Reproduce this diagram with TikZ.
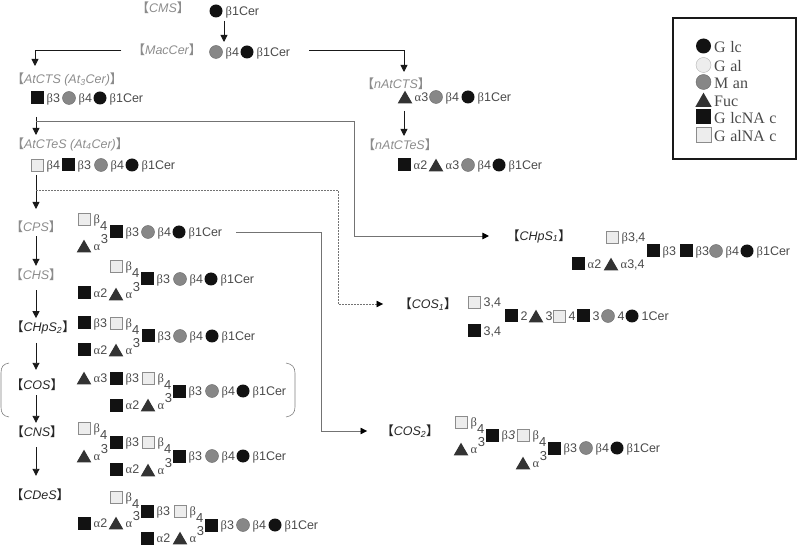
\documentclass[tikz,border=0pt]{standalone}
\usepackage{fontspec}
\setmainfont{Liberation Sans}
\newfontfamily\cjkfont{Noto Sans CJK SC}[BoldFont={Noto Sans CJK SC Bold}]
\newfontfamily\symfont{Liberation Serif}
\usetikzlibrary{arrows.meta,shapes.geometric}

\definecolor{inktext}{HTML}{4A4A4A}
\definecolor{graylabel}{HTML}{8C8C8C}

\newcommand{\bt}{{\symfont β}}
\newcommand{\al}{{\symfont α}}
\newcommand{\bigdigit}[1]{{\fontsize{13}{13}\selectfont #1}}
\newcommand{\btfour}{\bt\raisebox{-7pt}{\bigdigit{4}}}
\newcommand{\althree}{\al\kern0.5pt\raisebox{7pt}{\bigdigit{3}}}
\newcommand{\brk}[1]{{\cjkfont\bfseries\upshape 【}#1{\cjkfont\bfseries\upshape 】}}
\newcommand{\gp}{\kern4.5pt}

% one residue per item: style/x/y/linkage text
\newcommand{\residues}[1]{%
  \foreach \kind/\x/\y/\linkage in {#1} {
    \node[\kind] (r\x-\y) at (\x,\y) {};
    \node[linkage] (r\x-\y-l) at (\x+9.5,\y+4.5) {\linkage};
  }
}

\tikzset{
  glc/.style={circle,fill=black!93,inner sep=0,minimum size=13pt},
  gal/.style={circle,fill=black!7,draw=black!30,inner sep=0,minimum size=13pt},
  man/.style={circle,fill=black!47,draw=black!60,inner sep=0,minimum size=13pt},
  fuc/.style={regular polygon,regular polygon sides=3,fill=black!80,inner sep=0,minimum size=17pt,yshift=-2.2pt},
  glcnac/.style={rectangle,fill=black!93,inner sep=0,minimum size=13pt},
  galnac/.style={rectangle,fill=black!7,draw=black!45,inner sep=0,minimum size=12.5pt},
  linkage/.style={anchor=base west,inner sep=0,text=inktext,font=\fontsize{12.5}{13}\selectfont},
  graytitle/.style={inner sep=0,minimum height=12pt,text=graylabel,font=\fontsize{12.5}{13}\selectfont\itshape},
  blacktitle/.style={graytitle,text=black!85},
  flow/.style={-{Triangle[length=7pt,width=7pt]},black!90,line width=0.9pt},
  thinflow/.style={-{Triangle[length=6.5pt,width=6.5pt,black]},black!55,line width=0.6pt},
  dotflow/.style={thinflow,dash pattern=on 1.6pt off 1.4pt},
  bracket/.style={black!50,line width=0.6pt},
  legendtext/.style={anchor=west,inner sep=0,text=inktext,font=\fontsize{16}{16}\symfont}
}

\begin{document}
\begin{tikzpicture}[x=1pt,y=-1pt]
  \useasboundingbox (0,0) rectangle (798,545);

  % titles
  \node[graytitle] (cms) at (163,8) {\brk{CMS}};
  \node[graytitle] (mac) at (167,50) {\brk{MacCer}};
  \node[graytitle] (atcts) at (67,79) {\brk{AtCTS (At\textsubscript{3}Cer)}};
  \node[graytitle] (atctes) at (70,144) {\brk{AtCTeS (At\textsubscript{4}Cer)}};
  \node[graytitle] (cps) at (36,227) {\brk{CPS}};
  \node[graytitle] (chs) at (36,275) {\brk{CHS}};
  \node[blacktitle] (chpstwo) at (43,327) {\brk{CHpS\textsubscript{2}}};
  \node[blacktitle] (cos) at (37,385) {\brk{COS}};
  \node[blacktitle] (cns) at (37,432) {\brk{CNS}};
  \node[blacktitle] (cdes) at (40,495) {\brk{CDeS}};
  \node[graytitle] (natcts) at (396,84) {\brk{nAtCTS}};
  \node[graytitle] (natctes) at (400,145) {\brk{nAtCTeS}};
  \node[blacktitle] (chpsone) at (539,236) {\brk{CHpS\textsubscript{1}}};
  \node[blacktitle] (cosone) at (428,304) {\brk{COS\textsubscript{1}}};
  \node[blacktitle] (costwo) at (410,431) {\brk{COS\textsubscript{2}}};

  % left column
  \residues{glc/216/11/{\bt 1Cer}}
  \residues{man/216/52/{\bt 4},glc/247/52/{\bt 1Cer}}
  \residues{glcnac/37/98/{\bt 3},man/69/98/{\bt 4},glc/100/98/{\bt 1Cer}}
  \residues{galnac/37/165/{\bt 4},glcnac/68/165/{\bt 3},man/101/165/{\bt 4},glc/132/165/{\bt 1Cer}}
  \residues{galnac/84/219/\btfour,fuc/84/246/\althree,glcnac/116/232/{\bt 3},man/148/232/{\bt 4},glc/179/232/{\bt 1Cer}}
  \residues{galnac/116/266/\btfour,glcnac/84/293/{\al 2},fuc/116/294/\althree,glcnac/147/279/{\bt 3},man/180/279/{\bt 4},glc/211/279/{\bt 1Cer}}
  \residues{glcnac/84/323/{\bt 3},galnac/116/323/\btfour,glcnac/84/350/{\al 2},fuc/116/350/\althree,glcnac/148/336/{\bt 3},man/180/336/{\bt 4},glc/212/336/{\bt 1Cer}}
  \residues{fuc/84/378/{\al 3},glcnac/116/378/{\bt 3},galnac/148/378/\btfour,glcnac/116/405/{\al 2},fuc/148/405/\althree,glcnac/179/391/{\bt 3},man/212/391/{\bt 4},glc/243/391/{\bt 1Cer}}
  \residues{galnac/84/428/\btfour,fuc/84/456/\althree,glcnac/116/442/{\bt 3},galnac/148/442/\btfour,glcnac/116/469/{\al 2},fuc/148/470/\althree,glcnac/179/456/{\bt 3},man/212/456/{\bt 4},glc/243/456/{\bt 1Cer}}
  \residues{galnac/116/497/\btfour,glcnac/84/523/{\al 2},fuc/116/523/\althree,glcnac/147/511/{\bt 3},galnac/180/511/\btfour,glcnac/147/538/{\al 2},fuc/180/538/\althree,glcnac/211/525/{\bt 3},man/243/525/{\bt 4},glc/275/525/{\bt 1Cer}}

  % right column
  \residues{fuc/405/97/{\al 3},man/436/97/{\bt 4},glc/468/97/{\bt 1Cer}}
  \residues{glcnac/404/165/{\al 2},fuc/436/165/{\al 3},man/468/165/{\bt 4},glc/499/165/{\bt 1Cer}}
  \residues{galnac/612/237/{\bt 3,4},glcnac/578/264/{\al 2},fuc/611/264/{\al 3,4},glcnac/653/251/{\bt 3},glcnac/686/251/{\bt 3},man/716/251/{\bt 4},glc/747/251/{\bt 1Cer}}
  \residues{galnac/474/302/{3,4},glcnac/474/331/{3,4},glcnac/511/316/2,fuc/536/316/3,galnac/559/316/4,glcnac/583/316/3,man/608/316/4,glc/632/316/1Cer}
  \residues{galnac/461/422/\btfour,fuc/461/449/\althree,glcnac/492/435/{\bt\textit{3}},galnac/523/435/\btfour,fuc/523/463/\althree,glcnac/554/448/{\bt 3},man/586/448/{\bt 4},glc/617/448/{\bt 1Cer}}

  % connector ends
  \coordinate (col) at (36,0);
  \coordinate (maciny) at (224,42);
  \coordinate (cmsout) at (224,21);
  \coordinate (atctsin) at (35,66);
  \coordinate (natctsin) at (404,72);
  \coordinate (atctsout) at (36,117);
  \coordinate (atctesin) at (36,135);
  \coordinate (atctesout) at (36,175);
  \coordinate (cpsin) at (36,209);
  \coordinate (tapone) at (36,121);
  \coordinate (bendone) at (354,121);
  \coordinate (taptwo) at (36,190);
  \coordinate (bendtwo) at (338,190);
  \coordinate (bendthree) at (321,232);
  \coordinate (natout) at (404,111);
  \coordinate (natin) at (404,136);

  \draw[flow] (cmsout) -- (maciny);
  \draw[flow,shorten <=11pt] (mac.west) -| (atctsin);
  \draw[flow,shorten <=19pt] (r247-52-l.east |- mac.west) -| (natctsin);
  \draw[flow] (atctsout) -- (atctesin);
  \draw[flow] (atctesout) -- (cpsin);
  \draw[flow,shorten <=3pt,shorten >=3pt] (cps.south -| col) -- (chs.north -| col);
  \draw[flow,shorten <=9pt,shorten >=2pt] (chs.south -| col) -- (chpstwo.north -| col);
  \draw[flow,shorten <=9pt,shorten >=9pt] (chpstwo.south -| col) -- (cos.north -| col);
  \draw[flow,shorten <=4pt,shorten >=3pt] (cos.south -| col) -- (cns.north -| col);
  \draw[flow,shorten <=9pt,shorten >=13pt] (cns.south -| col) -- (cdes.north -| col);
  \draw[flow] (natout) -- (natin);
  \draw[thinflow,shorten >=18pt] (tapone) -- (bendone) |- (chpsone.west);
  \draw[dotflow,shorten >=16pt] (taptwo) -- (bendtwo) |- (cosone.west);
  \draw[thinflow,shorten <=14pt,shorten >=14pt] (r179-232-l.east |- bendthree) -- (bendthree) |- (costwo.west);

  % rounded bracket around COS
  \draw[bracket] (9,363) .. controls (3,364) and (1,367) .. (1,373) -- (1,407) .. controls (1,413) and (3,416) .. (9,417);
  \draw[bracket] (286,363) .. controls (292,364) and (295,367) .. (295,373) -- (295,407) .. controls (295,413) and (292,416) .. (286,417);

  % legend
  \node[draw=black!90,line width=1.1pt,minimum width=123pt,minimum height=141pt,inner sep=0] (legend) at (734.5,88.5) {};
  \foreach \kind/\y/\txt in {glc/46/G\gp lc,gal/65/G\gp al,man/82/M\gp an,glcnac/117/G\gp lcNA\gp c,galnac/135/G\gp alNA\gp c} {
    \node[\kind,minimum size=15pt] (key\kind) at (703.5,\y) {};
    \node[legendtext] (key\kind-t) at (714,\y+1) {\txt};
  }
  \node[fuc,minimum size=19pt] (keyfuc) at (703.5,100) {};
  \node[legendtext] (keyfuc-t) at (714,101) {Fuc};
\end{tikzpicture}
\end{document}
